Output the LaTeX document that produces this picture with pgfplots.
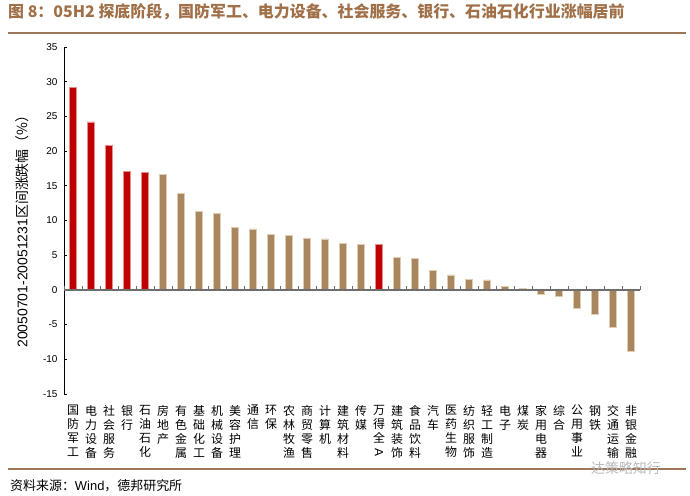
\documentclass[border=0pt]{standalone}
\usepackage{fontspec}
\setmainfont{Liberation Sans}
\newfontfamily\cjk{Noto Sans CJK SC}
\usepackage{pgfplots}
\pgfplotsset{compat=1.18}
\definecolor{barbrown}{RGB}{168,134,94}
\definecolor{baredge}{RGB}{224,204,178}
\definecolor{barred}{RGB}{192,0,0}
\definecolor{rededge}{RGB}{232,140,140}
\definecolor{titlebrown}{RGB}{160,112,72}
\definecolor{rulebrown}{RGB}{158,118,88}
\definecolor{zerogray}{RGB}{110,110,110}
\begin{document}
\begin{tikzpicture}
\path[use as bounding box] (-64bp,-102bp) rectangle (626bp,394bp);
\begin{axis}[
  scale only axis, width=576bp, height=347bp,
  xmin=-0.5, xmax=31.5, ymin=-15, ymax=35,
  axis y line*=left, axis x line*=bottom,
  x axis line style={draw=none},
  y axis line style={black, line width=0.9pt, -},
  ytick={-15,-10,...,35}, ytick align=inside,
  major tick length=3bp,
  ytick style={black, line width=0.8pt},
  yticklabel style={font=\fontsize{10}{12}\selectfont, xshift=-3bp},
  /pgf/number format/assume math mode=true,
  xtick={0,...,31}, xtick style={draw=none},
  xticklabels={{国\\防\\军\\工},{电\\力\\设\\备},{社\\会\\服\\务},{银\\行},{石\\油\\石\\化},
    {房\\地\\产},{有\\色\\金\\属},{基\\础\\化\\工},{机\\械\\设\\备},{美\\容\\护\\理},
    {通\\信},{环\\保},{农\\林\\牧\\渔},{商\\贸\\零\\售},{计\\算\\机},{建\\筑\\材\\料},
    {传\\媒},{万\\得\\全\\\rotatebox[origin=c]{-90}{\normalfont A}},{建\\筑\\装\\饰},{食\\品\\饮\\料},{汽\\车},
    {医\\药\\生\\物},{纺\\织\\服\\饰},{轻\\工\\制\\造},{电\\子},{煤\\炭},{家\\用\\电\\器},
    {综\\合},{公\\用\\事\\业},{钢\\铁},{交\\通\\运\\输},{非\\银\\金\\融}},
  xticklabel style={font=\cjk\fontsize{12}{14}\selectfont, align=center,
    anchor=north, inner sep=0pt, yshift=-8bp},
  ybar, bar width=7bp, bar shift=0pt,
  clip=false,
]
\addplot[fill=barred, draw=rededge, line width=0.6pt] coordinates {
  (0,29.2) (1,24.2) (2,20.8) (3,17.1) (4,16.9) (17,6.5)};
\addplot[fill=barbrown, draw=baredge, line width=0.6pt] coordinates {
  (5,16.7) (6,13.85) (7,11.3) (8,11.0) (9,9.05) (10,8.8) (11,8.05) (12,7.8)
  (13,7.5) (14,7.35) (15,6.75) (16,6.5) (18,4.7) (19,4.5) (20,2.85) (21,2.15)
  (22,1.55) (23,1.45) (24,0.55) (25,0.25) (26,-0.65) (27,-0.95) (28,-2.6)
  (29,-3.55) (30,-5.45) (31,-8.85)};
\end{axis}
\begin{axis}[
  scale only axis, width=576bp, height=347bp,
  xmin=-0.5, xmax=31.5, ymin=-15, ymax=35,
  axis x line=middle, axis y line=none,
  x axis line style={-, line width=1.3pt, zerogray},
  xtick={-0.5,0.5,...,31.5}, xticklabels={},
  xtick align=inside, major tick length=4bp,
  xtick style={zerogray, line width=0.9pt},
]
\end{axis}
\node[anchor=west, text=titlebrown, font=\cjk\bfseries\fontsize{16}{18}\selectfont, inner sep=0pt]
  at (-56bp,382bp) {图 8：05H2 探底阶段，国防军工、电力设备、社会服务、银行、石油石化行业涨幅居前};
\draw[rulebrown, line width=2bp] (-56bp,361bp) -- (622bp,361bp);
\draw[rulebrown, line width=2bp] (-56bp,-75bp) -- (622bp,-75bp);
\node[anchor=west, inner sep=0pt, font=\cjk\fontsize{13}{15}\selectfont]
  at (-54bp,-92bp) {资料来源：{\normalfont Wind}，德邦研究所};
\node[text=gray!55, font=\cjk\fontsize{14}{16}\selectfont, inner sep=0pt] at (562bp,-74bp) {达策略知行};
\node[rotate=90, font=\fontsize{14}{16}\selectfont] at (-42bp,166bp)
  {20050701-20051231{\cjk 区间涨跌幅（\%）}};
\end{tikzpicture}
\end{document}
